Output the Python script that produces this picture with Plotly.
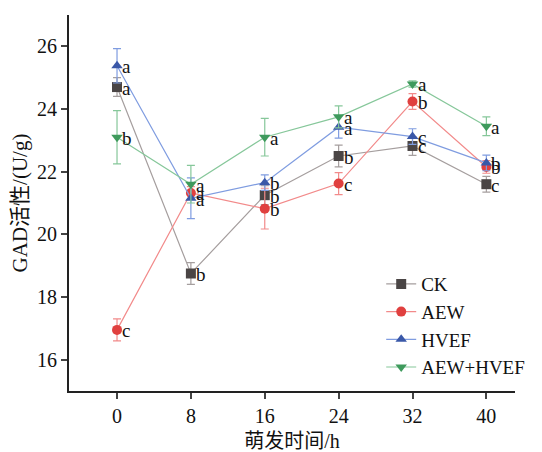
import plotly.graph_objects as go

hours = [0, 8, 16, 24, 32, 40]
series_names = ["CK", "AEW", "HVEF", "AEW+HVEF"]
ck = [24.70, 18.75, 21.25, 22.50, 22.82, 21.60]
ck_err = [0.30, 0.35, 0.30, 0.35, 0.30, 0.25]
aew = [16.95, 21.32, 20.82, 21.62, 24.24, 22.15]
aew_err = [0.35, 0.20, 0.65, 0.35, 0.25, 0.20]
hvef = [25.38, 21.15, 21.65, 23.42, 23.12, 22.28]
hvef_err = [0.55, 0.65, 0.25, 0.35, 0.25, 0.25]
combo = [23.10, 21.60, 23.10, 23.75, 24.80, 23.45]
combo_err = [0.85, 0.60, 0.60, 0.35, 0.10, 0.30]
ck_lab = ["a", "b", "b", "b", "c", "c"]
aew_lab = ["c", "a", "b", "c", "b", "b"]
hvef_lab = ["a", "a", "b", "a", "c", "b"]
combo_lab = ["b", "a", "a", "a", "a", "a"]

values = [ck, aew, hvef, combo]
errors = [ck_err, aew_err, hvef_err, combo_err]
labels = [ck_lab, aew_lab, hvef_lab, combo_lab]
marker_colors = ["#4a4545", "#e0403f", "#3a58a8", "#3e9a5c"]
line_colors = ["#a59e9e", "#f28a8a", "#7f9ce0", "#86c79a"]
symbols = ["square", "circle", "triangle-up", "triangle-down"]

serif = "Liberation Serif"
cjk = "Liberation Serif, Noto Sans CJK SC"

fig = go.Figure()
for name, v, e, mc, lc, sym in zip(series_names, values, errors, marker_colors, line_colors, symbols):
    fig.add_trace(go.Scatter(
        x=hours, y=v, name=name, mode="lines+markers",
        line=dict(color=lc, width=1.2),
        marker=dict(symbol=sym, size=10, color=mc),
        error_y=dict(type="data", array=e, visible=True, color=lc, thickness=1.2, width=4),
    ))

for v, labs in zip(values, labels):
    for x, y, t in zip(hours, v, labs):
        fig.add_annotation(x=x, y=y, text=t, showarrow=False, xanchor="left",
                           xshift=3, yshift=-1, font=dict(family=serif, size=19, color="#111111"))

fig.update_layout(
    width=542, height=452,
    margin=dict(l=69, r=24, t=15, b=61),
    paper_bgcolor="white", plot_bgcolor="white",
    font=dict(family=serif, size=19, color="#111111"),
    showlegend=True,
    legend=dict(x=0.70, y=0.335, xanchor="left", yanchor="top",
                bgcolor="rgba(0,0,0,0)", font=dict(family=serif, size=19),
                tracegroupgap=0, itemwidth=30),
)
fig.update_xaxes(range=[-5.2, 43.1], tickvals=hours, ticks="outside", ticklen=6, tickwidth=1.5,
                 showline=True, linecolor="#222222", linewidth=1.8, showgrid=False, zeroline=False,
                 automargin=False,
                 title=dict(text="萌发时间/h", font=dict(family=cjk, size=20), standoff=10),
                 tickfont=dict(family=serif, size=20))
fig.update_yaxes(range=[15, 27], tickvals=[16, 18, 20, 22, 24, 26], ticks="outside", ticklen=6, tickwidth=1.5,
                 showline=True, linecolor="#222222", linewidth=1.8, showgrid=False, zeroline=False,
                 automargin=False,
                 title=dict(text="GAD活性/(U/g)", font=dict(family=cjk, size=21), standoff=4),
                 tickfont=dict(family=serif, size=20))

fig.write_html("out.html")
